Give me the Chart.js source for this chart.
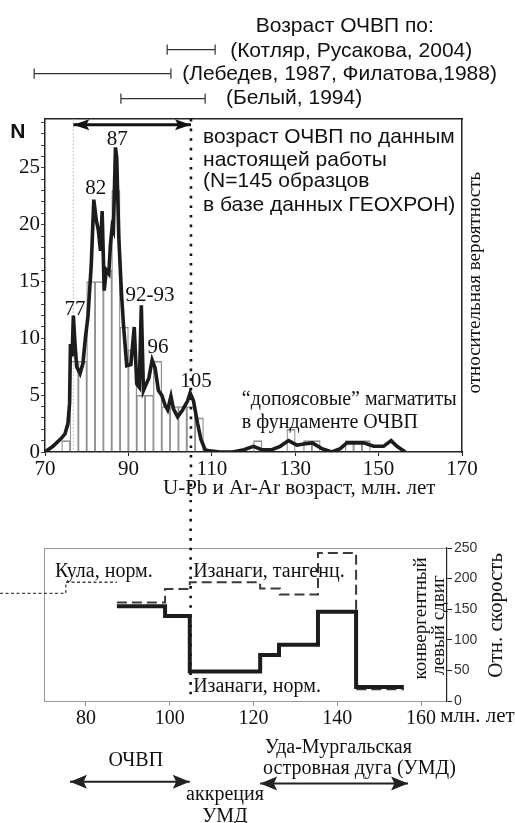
<!DOCTYPE html>
<html><head><meta charset="utf-8">
<script src="https://cdn.jsdelivr.net/npm/chart.js@4"></script>
<style>
html,body{margin:0;padding:0;background:#fff;}
#w{position:relative;width:515px;height:823px;overflow:hidden;}
#c1{position:absolute;left:0;top:0;}
#c2{position:absolute;left:0;top:500px;}
</style></head><body>
<div id="w"><canvas id="c1" width="515" height="500"></canvas><canvas id="c2" width="515" height="323"></canvas></div>
<script>
// ---------- DATA ----------
// histogram (2 Ma bins, centers) and counts
const histBins   = [75,77,79,81,83,85,87,89,91,93,95,97,99,101,103,105,107,121,129,133,135,143,145,147];
const histCounts = [1, 8, 8, 15,15,16,23,11,9, 5, 5, 8, 4, 4,  4,  4,  3,  1,  2,  1,  1,  1,  1,  1];
// probability curve
const curveAges = [70,71.9,73.9,74.8,75.5,75.9,76.1,76.5,76.8,77.2,77.6,78.4,79.1,79.7,80.3,81.1,81.7,82.3,82.8,83.3,83.7,84.2,84.7,85.3,85.7,86.1,86.4,86.9,87.2,87.7,88.3,88.8,89.6,90.6,91.4,92,92.6,93.1,93.6,94.3,94.9,95.7,96.4,97.2,98,98.8,99.4,100.2,100.8,101.8,103,104.2,104.8,105.6,106.6,107.4,108.4,109.4,112,115,117.7,120,122,124.4,126.4,128.4,130.4,132,134.1,136.4,138.8,140.8,142.4,146.4,148.8,151.2,153,154.4,156.4];
const curveN    = [0,0.5,1.2,1.6,2.5,4.3,9.5,8.4,12,9.5,7.5,6.9,7.8,10.1,11.9,16.5,22.2,20.4,19.5,17.7,21.2,14.2,16,15.7,18.3,19.8,19.5,26.8,25.9,18.9,14.2,11.3,7.6,7.7,11,6,5.7,12.9,5.4,6.0,6.5,8.1,7.4,5.4,5.0,4.1,3.7,4.9,3.8,3.1,3.7,4.5,5.2,4.5,2.5,1.1,0.2,0.1,0,0,0.2,0.5,0.2,0.2,0.5,1.0,0.6,0.7,0.8,0.3,0,0.3,0.8,0.8,0.5,0.5,1.0,0.5,0];
// published age ranges [start, end]
const rangeKotlyar = [99.3, 110.8];
const rangeLebedev = [67.4, 100.2];
const rangeBely    = [88.2, 108.4];
const rangeWork    = [76.8, 105];
const boundaryAge  = 105;
const faintAge     = 76.8;
// plate velocities (step functions)
const thickAges  = [87.4, 98.9, 104.8, 121.6, 126.1, 135.4, 144.5, 155.9];
const thickSpeed = [155, 139, 48, 75, 92, 146, 23, 23];
const dashAges   = [87.4, 98.9, 104.8, 121.6, 126.3, 135.4, 144.5, 155.9];
const dashSpeed  = [161, 183, 194, 184, 174, 242, 19, 19];
const kulaAges   = [59.5, 75.2, 87.4];
const kulaSpeed  = [176, 194, 194];
// bottom time spans
const spanOCVP = [76.2, 104.8];
const spanUMD  = [121.6, 156.9];
// tick labels
const topXTicks = [70, 90, 110, 130, 150, 170];
const topYLabels = [0, 5, 10, 15, 20, 25];
const topYTicks = [0,1,2,3,4,5,6,7,8,9,10,11,12,13,14,15,16,17,18,19,20,21,22,23,24,25,26,27,28,29];
const botXTicks = [80, 100, 120, 140, 160];
const botYTicks = [0, 50, 100, 150, 200, 250];

// ---------- helpers ----------
const SERIF = "'Liberation Serif','Times New Roman',serif";
const SANS  = "'Liberation Sans',Arial,sans-serif";
const pts = (xs, ys) => xs.map((x, i) => ({x, y: ys[i]}));
function rangeLine(r, y, h) {
  // drawn right-to-left (tick, bar, tick)
  return [{x:r[1],y:y+h},{x:r[1],y:y-h},{x:r[1],y:y},{x:r[0],y:y},{x:r[0],y:y+h},{x:r[0],y:y-h}];
}

const textPlugin = {
  id: 'texts',
  afterDraw(chart, args, opts) {
    const ctx = chart.ctx, xs = chart.scales.x, ys = chart.scales[opts.yScale || 'y'];
    (opts.items || []).forEach(it => {
      ctx.save();
      ctx.font = it.font;
      ctx.fillStyle = it.color || '#111';
      ctx.textAlign = it.align || 'left';
      ctx.textBaseline = 'middle';
      ctx.translate(xs.getPixelForValue(it.x), ys.getPixelForValue(it.y));
      if (it.rot) ctx.rotate(it.rot * Math.PI / 180);
      ctx.fillText(it.t, 0, 0);
      ctx.restore();
    });
  }
};
const arrowPlugin = {
  id: 'arrowheads',
  afterDatasetsDraw(chart) {
    const ctx = chart.ctx;
    chart.data.datasets.forEach((ds, i) => {
      if (!ds.arrow) return;
      const p = chart.getDatasetMeta(i).data;
      const L = ds.arrow[0], W = ds.arrow[1];
      const head = (tip, from) => {
        const a = Math.atan2(tip.y - from.y, tip.x - from.x);
        ctx.save();
        ctx.translate(tip.x, tip.y);
        ctx.rotate(a);
        ctx.beginPath();
        ctx.moveTo(0, 0); ctx.lineTo(-L, -W); ctx.lineTo(-L * 0.8, 0); ctx.lineTo(-L, W); ctx.closePath();
        ctx.fillStyle = ds.borderColor;
        ctx.fill();
        ctx.restore();
      };
      head(p[0], p[1]);
      head(p[p.length - 1], p[p.length - 2]);
    });
  }
};

// ---------- TOP CHART ----------
const topTexts = [
  {t:'Возраст ОЧВП по:', x:141.9, y:37.5, font:'21px '+SANS, align:'center'},
  {t:'(Котляр, Русакова, 2004)', x:114.4, y:35.3, font:'21px '+SANS},
  {t:'(Лебедев, 1987, Филатова,1988)', x:102.9, y:33.2, font:'21px '+SANS},
  {t:'(Белый, 1994)', x:113.4, y:31.1, font:'21px '+SANS},
  {t:'N', x:63.5, y:28.1, font:'bold 21px '+SANS, align:'center'},
  {t:'возраст ОЧВП по данным', x:107.9, y:27.7, font:'21px '+SANS},
  {t:'настоящей работы', x:107.9, y:25.7, font:'21px '+SANS},
  {t:'(N=145 образцов', x:107.9, y:23.8, font:'21px '+SANS},
  {t:'в базе данных ГЕОХРОН)', x:107.9, y:21.7, font:'21px '+SANS},
  {t:'87', x:87.3, y:27.5, font:'21px '+SERIF, align:'center'},
  {t:'82', x:82.2, y:23.2, font:'21px '+SERIF, align:'center'},
  {t:'77', x:77.2, y:12.5, font:'21px '+SERIF, align:'center'},
  {t:'92-93', x:95.2, y:13.8, font:'21px '+SERIF, align:'center'},
  {t:'96', x:97.1, y:9.2, font:'21px '+SERIF, align:'center'},
  {t:'105', x:106.2, y:6.2, font:'21px '+SERIF, align:'center'},
  {t:'“допоясовые” магматиты', x:117.2, y:4.6, font:'20px '+SERIF},
  {t:'в фундаменте ОЧВП', x:117.2, y:2.55, font:'20px '+SERIF},
  {t:'относительная вероятность', x:173.1, y:14.9, font:'19px '+SERIF, align:'center', rot:-90},
  {t:'U-Pb и Ar-Ar возраст, млн. лет', x:98.3, y:-3.2, font:'21px '+SERIF}
];

new Chart(document.getElementById('c1'), {
  type: 'bar',
  plugins: [textPlugin, arrowPlugin],
  data: {
    datasets: [
      {type:'line', data: pts(curveAges, curveN), borderColor:'#1c1c1c', borderWidth:3.6, pointRadius:0, tension:0, order:0},
      {type:'bar', data: pts(histBins, histCounts), backgroundColor:'rgba(255,255,255,0)', borderColor:'#8f8f8f',
       borderWidth:{top:1, left:0.6, right:0.6, bottom:0}, borderSkipped:false, barPercentage:1, categoryPercentage:1, order:9},
      {type:'line', data:[{x:boundaryAge,y:29.3},{x:boundaryAge,y:-4.4}], borderColor:'#111', borderWidth:2.6, borderDash:[2.6,7], pointRadius:0, clip:false, order:2},
      {type:'line', data:[{x:faintAge,y:29.3},{x:faintAge,y:0}], borderColor:'#b5b5b5', borderWidth:1, borderDash:[1.5,2], pointRadius:0, order:8},
      {type:'line', data:[{x:rangeWork[0],y:28.8},{x:rangeWork[1],y:28.8}], borderColor:'#111', borderWidth:3, pointRadius:0, clip:false, arrow:[16,5.5], order:1},
      {type:'line', data: rangeLine(rangeKotlyar, 35.4, 0.45), borderColor:'#333', borderWidth:1.2, pointRadius:0, clip:false},
      {type:'line', data: rangeLine(rangeLebedev, 33.3, 0.45), borderColor:'#333', borderWidth:1.2, pointRadius:0, clip:false},
      {type:'line', data: rangeLine(rangeBely, 31.1, 0.45), borderColor:'#333', borderWidth:1.2, pointRadius:0, clip:false}
    ]
  },
  options: {
    responsive:false, animation:false, devicePixelRatio:1,
    layout:{padding:{top:119, right:53, left:0, bottom:0}},
    plugins:{legend:{display:false}, tooltip:{enabled:false}, texts:{items: topTexts}},
    scales:{
      x:{type:'linear', position:'bottom', min:70, max:170, offset:false,
         afterBuildTicks: s => { s.ticks = topXTicks.map(v => ({value:v})); },
         ticks:{font:{family:SERIF, size:21}, color:'#111', padding:1, maxRotation:0, autoSkip:false},
         grid:{display:true, offset:false, drawOnChartArea:false, drawTicks:true, tickLength:4, color:'#222'},
         border:{display:true, color:'#222', width:1.5},
         afterFit: s => { s.height = 48; }},
      xt:{type:'linear', position:'top', min:70, max:170, ticks:{display:false}, grid:{display:false},
         border:{display:true, color:'#222', width:1.5}, afterFit: s => { s.height = 0; }},
      y:{type:'linear', position:'left', min:0, max:29.3,
         afterBuildTicks: s => { s.ticks = topYTicks.map(v => ({value:v})); },
         ticks:{font:{family:SERIF, size:21}, color:'#111', padding:1, autoSkip:false,
                callback: v => topYLabels.includes(v) ? String(v) : ''},
         grid:{display:true, drawOnChartArea:false, drawTicks:true, tickLength:4, color:'#444'},
         border:{display:true, color:'#222', width:1.5},
         afterFit: s => { s.width = 45; }},
      yr:{type:'linear', position:'right', min:0, max:29.3, ticks:{display:false}, grid:{display:false},
         border:{display:true, color:'#222', width:1.5}, afterFit: s => { s.width = 0; }}
    }
  }
});

// ---------- BOTTOM CHART ----------
const botTexts = [
  {t:'Кула, норм.', x:72.6, y:211, font:'20px '+SERIF},
  {t:'Изанаги, тангенц.', x:105.6, y:211, font:'20px '+SERIF},
  {t:'Изанаги, норм.', x:105.6, y:24, font:'20px '+SERIF},
  {t:'конвергентный', x:160, y:135, font:'19px '+SERIF, align:'center', rot:-90},
  {t:'левый сдвиг', x:164.3, y:124, font:'19px '+SERIF, align:'center', rot:-90},
  {t:'Отн. скорость', x:178.1, y:140, font:'21px '+SERIF, align:'center', rot:-90},
  {t:'млн. лет', x:164.6, y:-26, font:'21px '+SERIF},
  {t:'ОЧВП', x:91.9, y:-97, font:'20px '+SERIF, align:'center'},
  {t:'аккреция', x:113.2, y:-154, font:'20px '+SERIF, align:'center'},
  {t:'УМД', x:113.2, y:-189, font:'20px '+SERIF, align:'center'},
  {t:'Уда-Мургальская', x:122.7, y:-76, font:'20px '+SERIF},
  {t:'островная дуга (УМД)', x:122.3, y:-110, font:'20px '+SERIF}
];

new Chart(document.getElementById('c2'), {
  type: 'line',
  plugins: [textPlugin, arrowPlugin],
  data: {
    datasets: [
      {data: pts(thickAges, thickSpeed), stepped:'before', borderColor:'#1c1c1c', borderWidth:4, pointRadius:0, order:0},
      {data: pts(dashAges, dashSpeed), stepped:'before', borderColor:'#3a3a3a', borderWidth:2, borderDash:[10,5], pointRadius:0, order:1},
      {data: pts(kulaAges, kulaSpeed), stepped:'before', borderColor:'#444', borderWidth:1.3, borderDash:[3,2.5], pointRadius:0, clip:false, order:2},
      {data:[{x:boundaryAge,y:329},{x:boundaryAge,y:8}], borderColor:'#111', borderWidth:2.6, borderDash:[2.6,7], pointRadius:0, clip:false, order:3},
      {data:[{x:spanOCVP[0],y:-132},{x:spanOCVP[1],y:-132}], borderColor:'#222', borderWidth:2, pointRadius:0, clip:false, arrow:[17,7]},
      {data:[{x:spanUMD[0],y:-135},{x:spanUMD[1],y:-135}], borderColor:'#222', borderWidth:2, pointRadius:0, clip:false, arrow:[17,7]}
    ]
  },
  options: {
    responsive:false, animation:false, devicePixelRatio:1,
    layout:{padding:{top:48, right:28, left:0, bottom:0}},
    plugins:{legend:{display:false}, tooltip:{enabled:false}, texts:{items: botTexts}},
    scales:{
      x:{type:'linear', position:'bottom', min:70, max:166.2,
         afterBuildTicks: s => { s.ticks = botXTicks.map(v => ({value:v})); },
         ticks:{font:{family:SERIF, size:20}, color:'#111', padding:1, maxRotation:0, autoSkip:false},
         grid:{display:true, drawOnChartArea:false, drawTicks:true, tickLength:5, color:'#999'},
         border:{display:true, color:'#999', width:1},
         afterFit: s => { s.height = 122; }},
      xt:{type:'linear', position:'top', min:70, max:166.2, ticks:{display:false}, grid:{display:false},
         border:{display:true, color:'#999', width:1}, afterFit: s => { s.height = 0; }},
      y:{type:'linear', position:'right', min:0, max:250,
         afterBuildTicks: s => { s.ticks = botYTicks.map(v => ({value:v})); },
         ticks:{font:{family:SANS, size:14}, color:'#333', padding:2, autoSkip:false},
         grid:{display:true, drawOnChartArea:false, drawTicks:true, tickLength:5, color:'#222'},
         border:{display:true, color:'#222', width:1.2},
         afterFit: s => { s.width = 40; }},
      yl:{type:'linear', position:'left', min:0, max:250, ticks:{display:false}, grid:{display:false},
         border:{display:true, color:'#999', width:1}, afterFit: s => { s.width = 44; }}
    }
  }
});
</script>
</body></html>
